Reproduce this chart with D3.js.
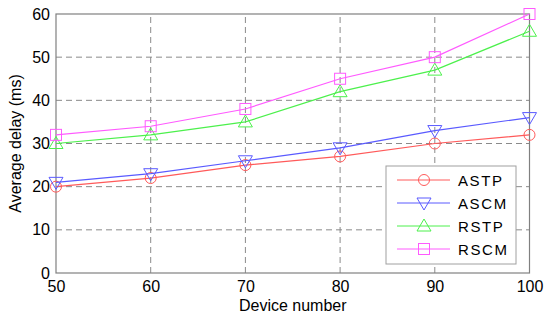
<!DOCTYPE html>
<html>
<head>
<meta charset="utf-8">
<script src="https://cdn.jsdelivr.net/npm/d3@7"></script>
<style>
  html, body { margin: 0; padding: 0; background: #fff; }
  svg { display: block; font-family: Arial, "Liberation Sans", sans-serif; }
</style>
</head>
<body>
<svg id="chart" width="550" height="320"></svg>
<script>
// chart data
const deviceNumbers = [50, 60, 70, 80, 90, 100];
const astp = [20, 22, 25, 27, 30, 32];
const ascm = [21, 23, 26, 29, 33, 36];
const rstp = [30, 32, 35, 42, 47, 56];
const rscm = [32, 34, 38, 45, 50, 60];
const yTicks = [0, 10, 20, 30, 40, 50, 60];

const series = [
  { name: 'ASTP', values: astp, color: '#ff5a5a', marker: 'circle' },
  { name: 'ASCM', values: ascm, color: '#5a5aff', marker: 'down' },
  { name: 'RSTP', values: rstp, color: '#4cf04c', marker: 'up' },
  { name: 'RSCM', values: rscm, color: '#ff5aff', marker: 'square' },
];

const svg = d3.select('#chart');
const m = { left: 56, right: 20.5, top: 14, bottom: 47 };
const W = 550, H = 320;
const x = d3.scaleLinear().domain([50, 100]).range([m.left, W - m.right]);
const y = d3.scaleLinear().domain([0, 60]).range([H - m.bottom, m.top]);

const grid = svg.append('g').attr('stroke', '#8a8a8a').attr('stroke-dasharray', '6,4').attr('stroke-width', 1);
deviceNumbers.slice(1, -1).forEach(v => {
  grid.append('line').attr('x1', x(v)).attr('x2', x(v)).attr('y1', y(0)).attr('y2', y(60));
});
yTicks.slice(1, -1).forEach(v => {
  grid.append('line').attr('x1', x(50)).attr('x2', x(100)).attr('y1', y(v)).attr('y2', y(v));
});

// frame
svg.append('rect')
  .attr('x', x(50)).attr('y', y(60))
  .attr('width', x(100) - x(50)).attr('height', y(0) - y(60))
  .attr('fill', 'none').attr('stroke', '#808080').attr('stroke-width', 1.2);

// axes
const xAxis = svg.append('g').attr('transform', `translate(0,${y(0)})`)
  .call(d3.axisBottom(x).tickValues(deviceNumbers).tickSize(0).tickPadding(8));
const yAxis = svg.append('g').attr('transform', `translate(${x(50)},0)`)
  .call(d3.axisLeft(y).tickValues(yTicks).tickSize(0).tickPadding(6));
[xAxis, yAxis].forEach(a => {
  a.select('.domain').remove();
  a.selectAll('text').attr('font-size', 16).attr('fill', '#000').attr('font-family', 'Arial, "Liberation Sans", sans-serif');
});

svg.append('text')
  .attr('x', (x(50) + x(100)) / 2).attr('y', 311)
  .attr('text-anchor', 'middle').attr('font-size', 16).text('Device number');
svg.append('text')
  .attr('transform', `translate(21,${(y(0) + y(60)) / 2}) rotate(-90)`)
  .attr('text-anchor', 'middle').attr('font-size', 16).text('Average delay (ms)');

function drawMarker(g, type, cx, cy, color) {
  const s = 6;
  let el;
  if (type === 'circle') {
    el = g.append('circle').attr('cx', cx).attr('cy', cy).attr('r', 5.5);
  } else if (type === 'square') {
    el = g.append('rect').attr('x', cx - 5.5).attr('y', cy - 5.5).attr('width', 11).attr('height', 11);
  } else if (type === 'up') {
    el = g.append('path').attr('d', `M${cx},${cy - s - 1}L${cx + s + 1},${cy + s - 1}L${cx - s - 1},${cy + s - 1}Z`);
  } else {
    el = g.append('path').attr('d', `M${cx},${cy + s + 1}L${cx + s + 1},${cy - s + 1}L${cx - s - 1},${cy - s + 1}Z`);
  }
  el.attr('fill', 'none').attr('stroke', color).attr('stroke-width', 1);
}

const line = d3.line().x((d, i) => x(deviceNumbers[i])).y(d => y(d));
series.forEach(s => {
  const g = svg.append('g');
  g.append('path').datum(s.values).attr('d', line)
    .attr('fill', 'none').attr('stroke', s.color).attr('stroke-width', 1.2);
  s.values.forEach((v, i) => drawMarker(g, s.marker, x(deviceNumbers[i]), y(v), s.color));
});

// legend
const lg = svg.append('g');
lg.append('rect').attr('x', 386).attr('y', 166).attr('width', 130).attr('height', 98)
  .attr('fill', '#fff').attr('stroke', '#a0a0a0').attr('stroke-width', 1);
series.forEach((s, i) => {
  const ly = 180 + i * 23;
  lg.append('line').attr('x1', 397).attr('x2', 450).attr('y1', ly).attr('y2', ly)
    .attr('stroke', s.color).attr('stroke-width', 1);
  drawMarker(lg, s.marker, 424, ly, s.color);
  lg.append('text').attr('x', 458).attr('y', ly + 5.5).attr('font-size', 15)
    .attr('letter-spacing', 1.6).text(s.name);
});
</script>
</body>
</html>
